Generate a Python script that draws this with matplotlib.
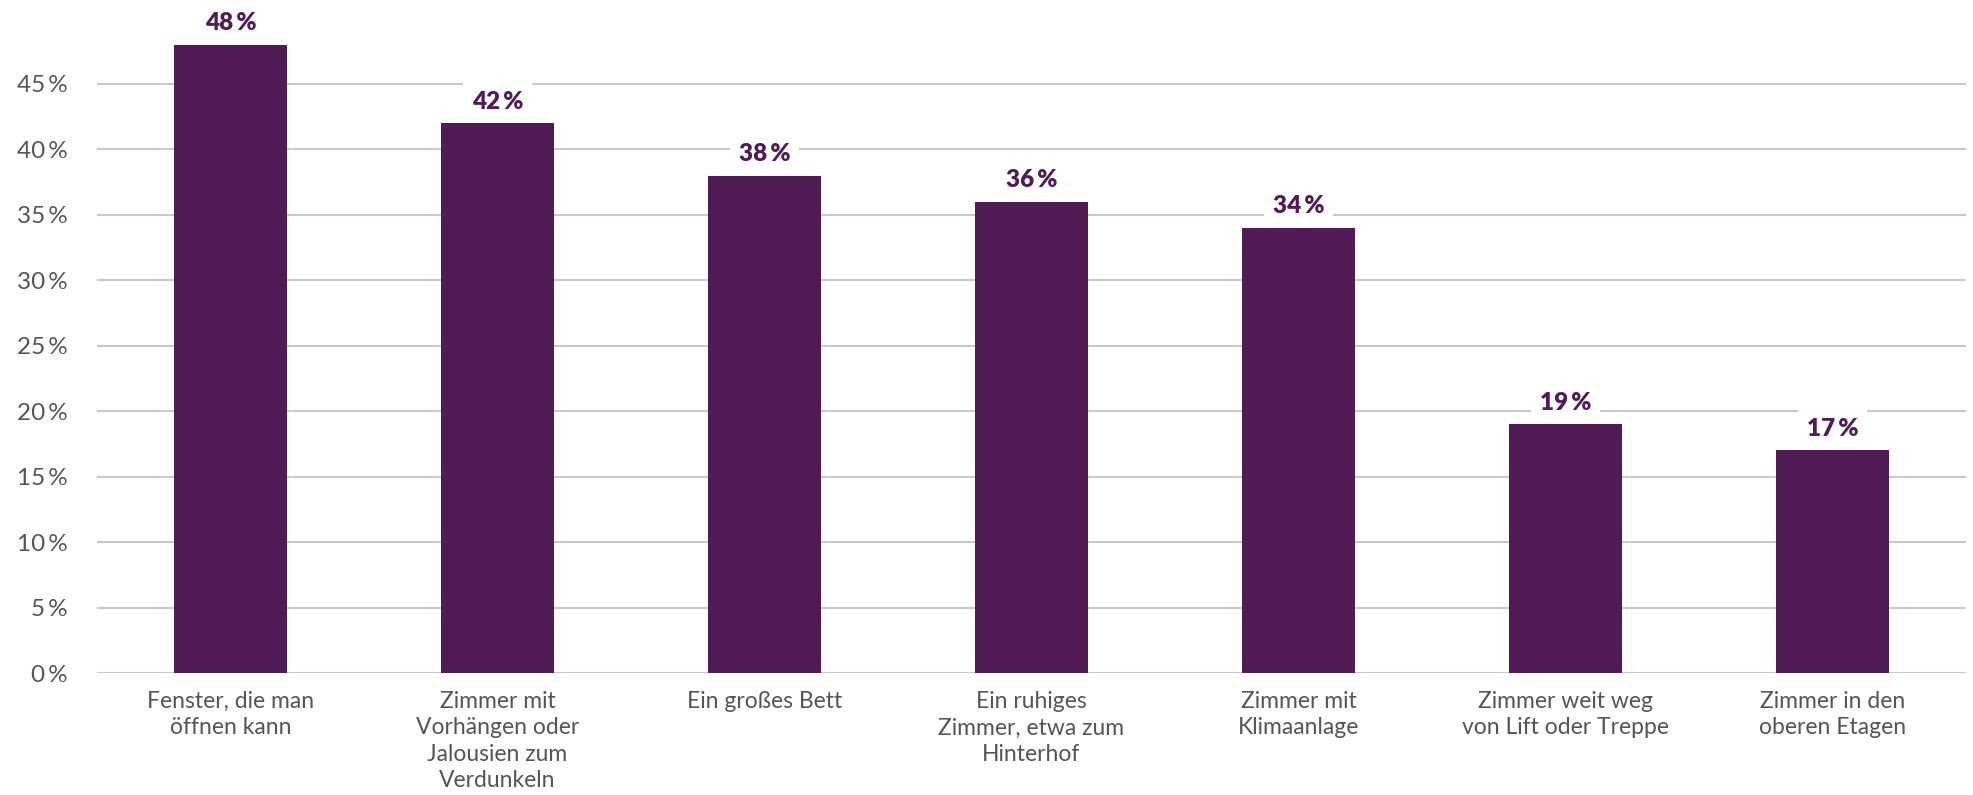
import matplotlib
matplotlib.use("Agg")
import matplotlib.pyplot as plt
import numpy as np

categories = [
    "Fenster, die man\nöffnen kann",
    "Zimmer mit\nVorhängen oder\nJalousien zum\nVerdunkeln",
    "Ein großes Bett",
    "Ein ruhiges\nZimmer, etwa zum\nHinterhof",
    "Zimmer mit\nKlimaanlage",
    "Zimmer weit weg\nvon Lift oder Treppe",
    "Zimmer in den\noberen Etagen",
]
values = [48, 42, 38, 36, 34, 19, 17]
yticks = [0, 5, 10, 15, 20, 25, 30, 35, 40, 45]

BAR_COLOR = "#511b56"
GRID_COLOR = "#c9c9c9"
TEXT_COLOR = "#555555"

plt.rcParams["font.family"] = ["Lato", "DejaVu Sans"]

fig = plt.figure(figsize=(19.73, 7.95), dpi=100)
ax = fig.add_axes([97 / 1973, 1 - 673 / 795, (1966 - 97) / 1973, (673 - 18.5) / 795])

x = np.arange(len(categories))
ax.bar(x, values, width=0.42, color=BAR_COLOR, zorder=2)

for xi, v in zip(x, values):
    ax.text(xi, v + 0.8, f"{v}\u2009%", ha="center", va="bottom", fontsize=17.5,
            fontweight="heavy", color=BAR_COLOR, zorder=4,
            bbox=dict(facecolor="white", edgecolor="none", pad=6))

ax.set_xlim(-0.5, 6.5)
ax.set_ylim(0, 50)
ax.set_yticks(yticks)
ax.set_yticklabels([f"{t}\u2009%" for t in yticks])
ax.yaxis.grid(True, color=GRID_COLOR, linewidth=1.5, zorder=0)
ax.set_axisbelow(True)
ax.set_xticks(x)
ax.set_xticklabels(categories, linespacing=1.32)

for s in ax.spines.values():
    s.set_visible(False)
ax.tick_params(axis="both", length=0, labelsize=16.5, colors=TEXT_COLOR)
ax.tick_params(axis="y", pad=21, labelsize=17.5)
ax.tick_params(axis="x", pad=13)

fig.savefig("out.png", dpi=100, facecolor="white")
